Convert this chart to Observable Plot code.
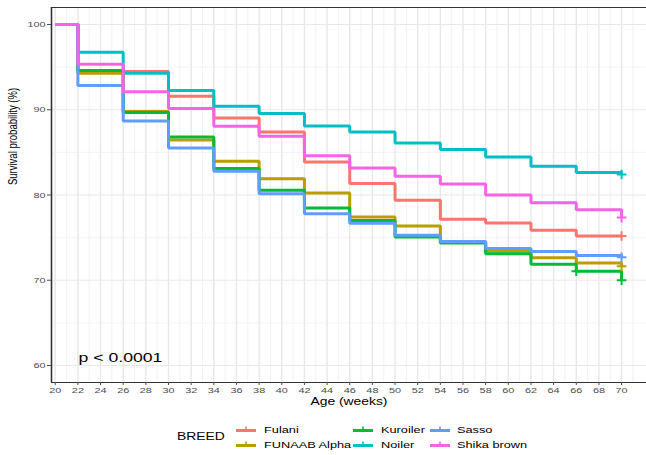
<!DOCTYPE html>
<html>
<head>
<meta charset="utf-8">
<script src="https://cdn.jsdelivr.net/npm/d3@7"></script>
<script src="https://cdn.jsdelivr.net/npm/@observablehq/plot@0.6"></script>
<style>
  html, body { margin: 0; padding: 0; background: #fff; }
  body { font-family: "Liberation Sans", Arial, sans-serif; }
  #chart { position: relative; width: 646px; height: 455px; overflow: hidden; }
  #chart svg { display: block; }
  .legend { position: relative; width: 646px; height: 45px; }
  .legend .lab { position: absolute; white-space: nowrap; color: #000;
                 transform-origin: 0 50%; line-height: 12px; height: 12px; }
  .legend .key { position: absolute; }
</style>
</head>
<body>
<div id="chart"></div>
<script>
// Kaplan–Meier survival by breed, weeks 20–70
const weeks = [20, 22, 26, 30, 34, 38, 42, 46, 50, 54, 58, 62, 66, 70];
const breeds = ["Fulani", "FUNAAB Alpha", "Kuroiler", "Noiler", "Sasso", "Shika brown"];
const colors = ["#F8766D", "#B79F00", "#00BA38", "#00BFC4", "#619CFF", "#F564E3"];

const fulani      = [100, 94.6, 94.5, 91.58, 89.04, 87.4, 83.87, 81.34, 79.38, 77.15, 76.71, 75.86, 75.19, 75.19];
const funaabAlpha = [100, 94.28, 89.8, 86.46, 83.96, 81.92, 80.24, 77.42, 76.36, 74.45, 73.43, 72.65, 72.02, 71.63];
const kuroiler    = [100, 94.6, 89.67, 86.8, 83.1, 80.55, 78.47, 77.0, 75.07, 74.37, 73.12, 71.87, 71.05, 70.0];
const noiler      = [100, 96.75, 94.3, 92.25, 90.41, 89.55, 88.1, 87.4, 86.1, 85.33, 84.46, 83.37, 82.63, 82.4];
const sasso       = [100, 92.86, 88.67, 85.52, 82.78, 80.16, 77.8, 76.7, 75.27, 74.53, 73.71, 73.36, 72.9, 72.7];
const shikaBrown  = [100, 95.34, 92.12, 90.14, 88.06, 86.9, 84.62, 83.17, 82.2, 81.3, 80.0, 79.1, 78.28, 77.35];
const survival = [fulani, funaabAlpha, kuroiler, noiler, sasso, shikaBrown];

// censoring times per breed (marked with "+")
const censorWeeks = [[70], [70], [66, 70], [70], [70], [70]];

const xTicks = [20, 22, 24, 26, 28, 30, 32, 34, 36, 38, 40, 42, 44, 46, 48, 50, 52, 54, 56, 58, 60, 62, 64, 66, 68, 70];
const xMinor = [21, 23, 25, 27, 29, 31, 33, 35, 37, 39, 41, 43, 45, 47, 49, 51, 53, 55, 57, 59, 61, 63, 65, 67, 69, 71];
const yTicks = [60, 70, 80, 90, 100];
const yMinor = [65, 75, 85, 95];
const xDomain = [19.67, 72.2];
const yDomain = [58, 102];

const xTitle = "Age (weeks)";
const yTitle = "Survival probability (%)";
const legendTitle = "BREED";
const pValue = "p < 0.0001";
const pAt = {week: 22.05, surv: 60.95};

// text is drawn wide, stretched horizontally
const STRETCH = 1.36;

const rows = [];
breeds.forEach((b, i) => weeks.forEach((w, j) => rows.push({breed: b, week: w, surv: survival[i][j]})));
const censor = [];
breeds.forEach((b, i) => censorWeeks[i].forEach(w => censor.push({breed: b, week: w, surv: survival[i][weeks.indexOf(w)]})));

const font = "Liberation Sans, Arial, sans-serif";

const plot = Plot.plot({
  width: 646,
  height: 410,
  marginTop: 7,
  marginBottom: 28,
  marginLeft: 51,
  marginRight: 0,
  style: {fontFamily: font, background: "#fff", overflow: "visible"},
  x: {domain: xDomain},
  y: {domain: yDomain},
  color: {domain: breeds, range: colors},
  marks: [
    Plot.ruleX(xMinor, {stroke: "#EFEFEF", strokeWidth: 0.8}),
    Plot.ruleX(xTicks, {stroke: "#E8E8E8", strokeWidth: 1.4}),
    Plot.ruleY(yMinor, {stroke: "#EFEFEF", strokeWidth: 0.7}),
    Plot.ruleY(yTicks, {stroke: "#E8E8E8", strokeWidth: 1.1}),
    Plot.line(rows, {x: "week", y: "surv", z: "breed", stroke: "breed", curve: "step-after",
                     strokeWidth: 3, strokeLinejoin: "miter", strokeLinecap: "butt"}),
    Plot.dot(censor, {x: "week", y: "surv", stroke: "breed", symbol: "plus", r: 3.2, strokeWidth: 2}),
    // panel border (top, left) and bottom axis line
    Plot.ruleY([yDomain[1]], {stroke: "#333", strokeWidth: 1.1}),
    Plot.ruleY([yDomain[0]], {stroke: "#333", strokeWidth: 1.1}),
    Plot.ruleX([xDomain[0]], {stroke: "#333", strokeWidth: 1.6}),
    Plot.axisY(yTicks, {tickSize: 4, tickPadding: 2, fontSize: 8, color: "#4D4D4D", label: null}),
    Plot.axisX(xTicks, {tickSize: 3, tickPadding: 1.5, fontSize: 8, color: "#4D4D4D", label: null}),
    Plot.text([xTitle], {frameAnchor: "bottom", dy: 19.5, lineAnchor: "middle", fontSize: 10.2, fill: "#000"}),
    Plot.text([yTitle], {frameAnchor: "left", rotate: -90, dx: -39, dy: -10, lineAnchor: "middle", fontSize: 9.5, fill: "#000"}),
    Plot.text([pValue], {x: () => pAt.week, y: () => pAt.surv, textAnchor: "start", lineAnchor: "middle", fontSize: 13, fill: "#000"})
  ]
});

// widen every text along the screen's horizontal axis
plot.querySelectorAll("text").forEach(t => {
  let tr = t.getAttribute("transform") || "";
  if (tr.includes("rotate")) tr = tr.replace("rotate", `scale(${STRETCH},1) rotate`);
  else tr = tr + ` scale(${STRETCH},1)`;
  t.setAttribute("transform", tr);
});

const chart = document.getElementById("chart");
chart.appendChild(plot);

// legend below the plot
const legend = document.createElement("div");
legend.className = "legend";
chart.appendChild(legend);

function addLabel(text, left, cy, size) {
  const s = document.createElement("span");
  s.className = "lab";
  s.textContent = text;
  s.style.left = left + "px";
  s.style.top = (cy - 6) + "px";
  s.style.fontSize = size + "px";
  s.style.transform = `scaleX(${STRETCH})`;
  legend.appendChild(s);
}
addLabel(legendTitle, 177, 27, 10.2);

const colLeft = [236, 353, 430];
const labLeft = [264, 381, 457];
const rowY = [19.5, 34.5];
breeds.forEach((b, i) => {
  const col = Math.floor(i / 2), row = i % 2;
  const ns = "http://www.w3.org/2000/svg";
  const k = document.createElementNS(ns, "svg");
  k.setAttribute("class", "key");
  k.setAttribute("width", 20);
  k.setAttribute("height", 10);
  k.style.left = colLeft[col] + "px";
  k.style.top = (rowY[row] - 5) + "px";
  const ln = document.createElementNS(ns, "line");
  ln.setAttribute("x1", 0); ln.setAttribute("x2", 20);
  ln.setAttribute("y1", 5.5); ln.setAttribute("y2", 5.5);
  ln.setAttribute("stroke", colors[i]); ln.setAttribute("stroke-width", 3);
  const tk = document.createElementNS(ns, "line");
  tk.setAttribute("x1", 10); tk.setAttribute("x2", 10);
  tk.setAttribute("y1", 1.5); tk.setAttribute("y2", 7);
  tk.setAttribute("stroke", colors[i]); tk.setAttribute("stroke-width", 1.6);
  k.appendChild(ln); k.appendChild(tk);
  legend.appendChild(k);
  addLabel(b, labLeft[col], rowY[row], 9.4);
});
</script>
</body>
</html>
